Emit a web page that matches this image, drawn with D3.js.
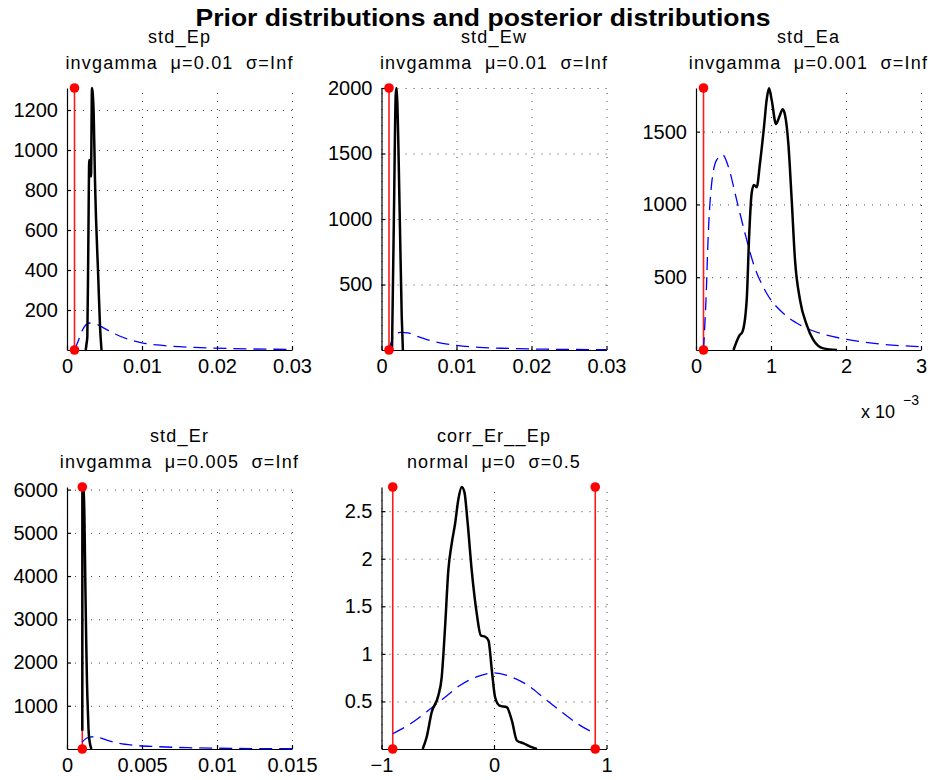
<!DOCTYPE html>
<html>
<head>
<meta charset="utf-8">
<script src="https://cdn.jsdelivr.net/npm/d3@7"></script>
<style>
  body { margin: 0; background: #fff; }
  svg { font-family: "Liberation Sans", Arial, Helvetica, sans-serif; }
  .grid line { stroke: #444; stroke-width: 1; stroke-dasharray: 1, 7; }
  .axis path, .axis line { stroke: #000; stroke-width: 1.2; }
  .axis text { fill: #000; }
  .sub { white-space: pre; }
</style>
</head>
<body>
<svg id="chart" width="941" height="780"></svg>
<script>
const params = ["std_Ep", "std_Ew", "std_Ea", "std_Er", "corr_Er__Ep"];
const priorTexts = [
  "invgamma  μ=0.01  σ=Inf",
  "invgamma  μ=0.01  σ=Inf",
  "invgamma  μ=0.001  σ=Inf",
  "invgamma  μ=0.005  σ=Inf",
  "normal  μ=0  σ=0.5",
];
const xRanges = [[0, 0.03], [0, 0.03], [0, 0.003], [0, 0.015], [-1, 1]];
const yTops = [1310, 2000, 1800, 6060, 2.754];
const xTickValues = [
  [0, 0.01, 0.02, 0.03],
  [0, 0.01, 0.02, 0.03],
  [0, 0.001, 0.002, 0.003],
  [0, 0.005, 0.01, 0.015],
  [-1, 0, 1],
];
const xTickLabels = [
  ["0", "0.01", "0.02", "0.03"],
  ["0", "0.01", "0.02", "0.03"],
  ["0", "1", "2", "3"],
  ["0", "0.005", "0.01", "0.015"],
  ["−1", "0", "1"],
];
const yTickValues = [
  [200, 400, 600, 800, 1000, 1200],
  [500, 1000, 1500, 2000],
  [500, 1000, 1500],
  [1000, 2000, 3000, 4000, 5000, 6000],
  [0.5, 1, 1.5, 2, 2.5],
];
// red vertical lines (with dots at both ends)
const redLines = [[0.001], [0.001], [0.0001], [0.00102], [-0.9, 0.9]];

// posterior densities (black) and priors (blue dashed), [x, density]
const postEp = [[0.0025, 0], [0.0026, 30], [0.00271, 67], [0.00284, 517], [0.00297, 950], [0.00305, 920],
  [0.0032, 867], [0.00333, 1310], [0.00356, 1180], [0.00373, 850], [0.00418, 350], [0.0044, 120], [0.0046, 0]];
const priorEp = [[0.001, 0], [0.0015, 45], [0.002, 95], [0.0025, 125], [0.003, 135], [0.004, 128], [0.005, 108],
  [0.007, 70], [0.01, 36], [0.013, 22], [0.017, 13], [0.022, 7], [0.03, 3]];

const postEw = [[0.0014, 0], [0.00165, 1000], [0.0019, 1950], [0.002, 2000], [0.0021, 1900], [0.00244, 1000],
  [0.0027, 250], [0.00285, 0]];
const priorEw = [[0.001, 0], [0.0013, 60], [0.0017, 110], [0.0025, 135], [0.0035, 130], [0.005, 100],
  [0.007, 65], [0.01, 35], [0.013, 20], [0.017, 12], [0.022, 6], [0.03, 3]];

const postEa = [[0.0005, 0], [0.00058, 100], [0.00062, 126], [0.000676, 344], [0.00071, 800], [0.000742, 1077],
  [0.000773, 1134], [0.000809, 1118], [0.000853, 1283], [0.000907, 1535], [0.000942, 1718], [0.000973, 1798],
  [0.001009, 1718], [0.001067, 1553], [0.00112, 1615], [0.001156, 1654], [0.001187, 1615], [0.001231, 1420],
  [0.001276, 1031], [0.00132, 619], [0.001387, 344], [0.001476, 172], [0.001564, 69], [0.001698, 11], [0.00188, 0]];
const priorEa = [[0.0001, 0], [0.000133, 344], [0.000164, 800], [0.000209, 1145], [0.000276, 1306],
  [0.000356, 1340], [0.000431, 1260], [0.000542, 1031], [0.000653, 802], [0.000764, 596], [0.000942, 390],
  [0.001164, 252], [0.001387, 172], [0.001653, 115], [0.002009, 73], [0.002453, 41], [0.003, 23]];

const postEr = [[0.00102, 420], [0.00103, 6060], [0.0011, 6000], [0.00116, 5400], [0.00122, 3900],
  [0.00128, 2500], [0.00133, 1580], [0.0014, 800], [0.00144, 420], [0.00152, 150], [0.0016, 30], [0.00165, 0]];
const priorEr = [[0.001, 160], [0.0013, 250], [0.0016, 280], [0.0019, 285], [0.0022, 260], [0.0027, 200],
  [0.0035, 130], [0.0045, 85], [0.006, 55], [0.008, 30], [0.01, 18], [0.0125, 10], [0.015, 6]];

const postCorr = [[-0.634, 0], [-0.599, 0.123], [-0.554, 0.386], [-0.495, 0.561], [-0.465, 0.754],
  [-0.435, 1.28], [-0.406, 1.877], [-0.376, 2.158], [-0.346, 2.368], [-0.316, 2.63], [-0.287, 2.754],
  [-0.263, 2.70], [-0.236, 2.40], [-0.198, 1.877], [-0.153, 1.42], [-0.117, 1.193], [-0.079, 1.18],
  [-0.049, 1.14], [-0.019, 0.825], [0.01, 0.544], [0.049, 0.456], [0.114, 0.439], [0.159, 0.298],
  [0.204, 0.088], [0.263, 0.06], [0.322, 0.025], [0.382, 0]];
const priorCorr = [[-0.9, 0.16], [-0.75, 0.26], [-0.6, 0.39], [-0.45, 0.53], [-0.3, 0.67], [-0.15, 0.76],
  [0, 0.80], [0.15, 0.76], [0.3, 0.67], [0.45, 0.53], [0.6, 0.39], [0.75, 0.26], [0.9, 0.16]];

const posteriors = [postEp, postEw, postEa, postEr, postCorr];
const priors = [priorEp, priorEw, priorEa, priorEr, priorCorr];

const svg = d3.select("#chart");

// panel layout (2 x 3 grid, last cell empty)
const panelW = 225, panelH = 262;
const panelLeft = [67, 381.5, 696, 67, 381.5];
const panelTop = [88, 88, 88, 487, 487];

params.forEach((name, i) => drawPanel(i));

// main title drawn last so it sits over the first row of subtitles
svg
  .append("text")
  .attr("x", 483)
  .attr("y", 26)
  .attr("text-anchor", "middle")
  .attr("font-size", 24)
  .attr("font-weight", "bold")
  .attr("textLength", 575)
  .attr("lengthAdjust", "spacingAndGlyphs")
  .text("Prior distributions and posterior distributions");

function drawPanel(i) {
  const g = svg
    .append("g")
    .attr("transform", `translate(${panelLeft[i]},${panelTop[i]})`);

  const x = d3.scaleLinear().domain(xRanges[i]).range([0, panelW]);
  const y = d3.scaleLinear().domain([0, yTops[i]]).range([panelH, 0]);

  // dotted grid
  g.append("g")
    .attr("class", "grid")
    .attr("transform", `translate(0,${panelH})`)
    .call(d3.axisBottom(x).tickValues(xTickValues[i]).tickSize(-panelH).tickFormat(""))
    .call((s) => s.select(".domain").remove());
  g.append("g")
    .attr("class", "grid")
    .call(d3.axisLeft(y).tickValues(yTickValues[i]).tickSize(-panelW).tickFormat(""))
    .call((s) => s.select(".domain").remove());

  // axes, ticks pointing inwards
  const labels = xTickLabels[i];
  g.append("g")
    .attr("class", "axis")
    .attr("transform", `translate(0,${panelH})`)
    .call(
      d3.axisBottom(x)
        .tickValues(xTickValues[i])
        .tickFormat((d, k) => labels[k])
        .tickSizeInner(-4)
        .tickSizeOuter(0)
        .tickPadding(9)
    )
    .attr("font-family", null)
    .attr("font-size", 20);
  g.append("g")
    .attr("class", "axis")
    .call(
      d3.axisLeft(y)
        .tickValues(yTickValues[i])
        .tickFormat((d) => d)
        .tickSizeInner(-4)
        .tickSizeOuter(0)
        .tickPadding(9)
    )
    .attr("font-family", null)
    .attr("font-size", 20);

  // titles
  g.append("text")
    .attr("x", panelW / 2)
    .attr("y", -45)
    .attr("text-anchor", "middle")
    .attr("font-size", 18)
    .attr("letter-spacing", 1.2)
    .text(params[i]);
  g.append("text")
    .attr("class", "sub")
    .attr("x", panelW / 2)
    .attr("y", -19)
    .attr("text-anchor", "middle")
    .attr("font-size", 18)
    .attr("letter-spacing", 1.2)
    .text(priorTexts[i]);

  const line = d3
    .line()
    .x((d) => x(d[0]))
    .y((d) => y(d[1]))
    .curve(d3.curveMonotoneX);

  // red lines
  g.selectAll(".redline")
    .data(redLines[i])
    .enter()
    .append("line")
    .attr("class", "redline")
    .attr("x1", (d) => x(d))
    .attr("x2", (d) => x(d))
    .attr("y1", y(0))
    .attr("y2", y(yTops[i]))
    .attr("stroke", "#ff1a1a")
    .attr("stroke-width", 1.6);

  g.append("path")
    .datum(priors[i])
    .attr("d", line)
    .attr("fill", "none")
    .attr("stroke", "#0000ff")
    .attr("stroke-width", 1.3)
    .attr("stroke-dasharray", "13,7");

  g.append("path")
    .datum(posteriors[i])
    .attr("d", line)
    .attr("fill", "none")
    .attr("stroke", "#000")
    .attr("stroke-width", 2.5)
    .attr("stroke-linejoin", "round");

  // red end dots
  redLines[i].forEach((v) => {
    g.selectAll(null)
      .data([0, yTops[i]])
      .enter()
      .append("circle")
      .attr("cx", x(v))
      .attr("cy", (d) => y(d))
      .attr("r", 4.8)
      .attr("fill", "#ff0000");
  });

  // exponent label for the std_Ea axis
  if (i === 2) {
    g.append("text")
      .attr("x", panelW - 60)
      .attr("y", panelH + 68)
      .attr("font-size", 18)
      .text("x 10");
    g.append("text")
      .attr("x", panelW - 18)
      .attr("y", panelH + 55)
      .attr("font-size", 14)
      .text("−3");
  }
}
</script>
</body>
</html>
